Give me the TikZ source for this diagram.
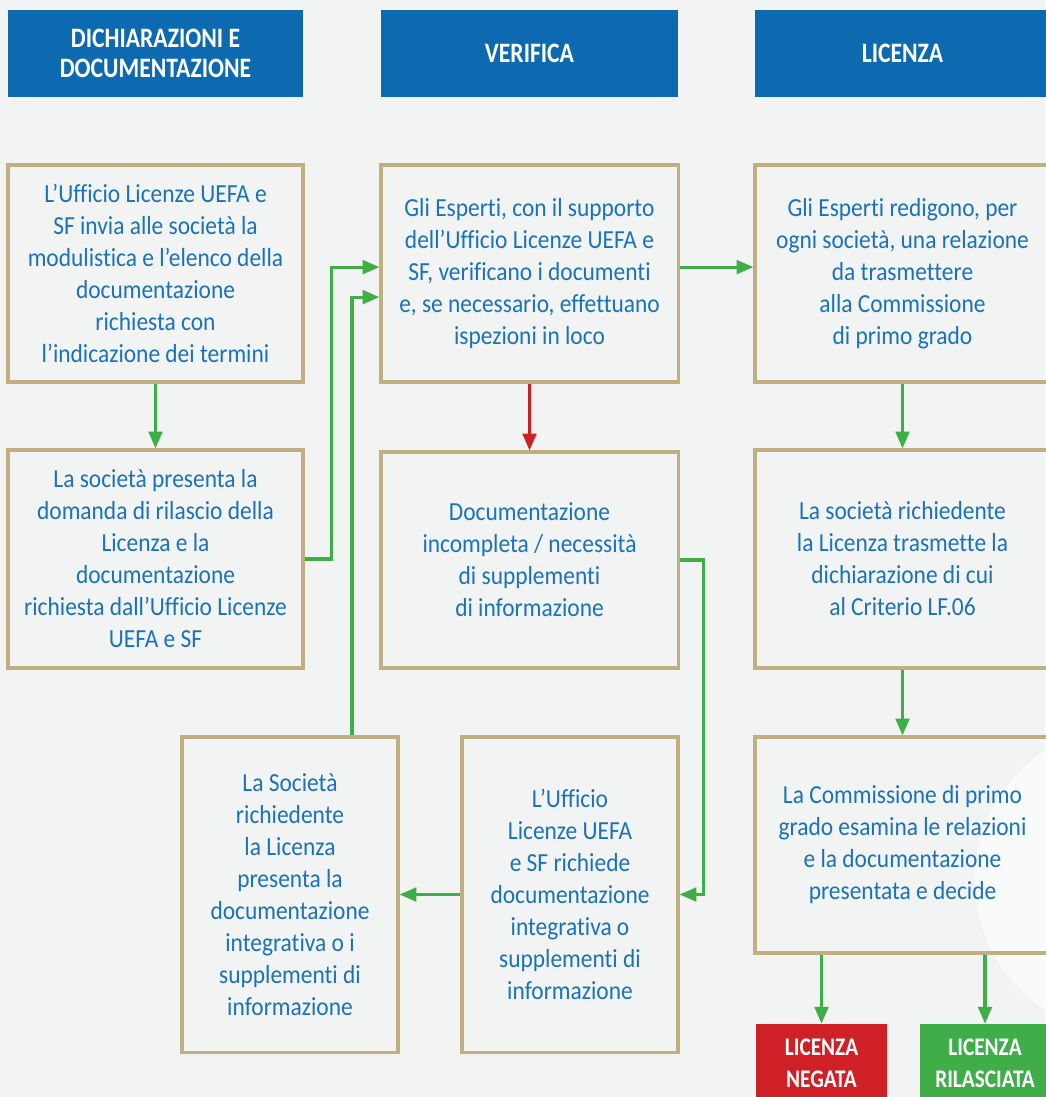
\documentclass[tikz,border=0pt]{standalone}
\usepackage{fontspec}
\setmainfont{Carlito}
\newfontfamily\boxfont[FakeStretch=0.9,Ligatures=NoCommon]{Carlito}
\newfontfamily\headfont[FakeStretch=0.84]{Carlito}
\usetikzlibrary{arrows.meta}
\definecolor{hblue}{HTML}{0E6AB0}
\definecolor{tblue}{HTML}{1B72B8}
\definecolor{boxtan}{HTML}{C0AF80}
\definecolor{okgreen}{HTML}{3FAE49}
\definecolor{nored}{HTML}{D02027}
\definecolor{bgray}{HTML}{F2F3F3}

\begin{document}
\begin{tikzpicture}[x=0.025cm,y=-0.025cm]
        \tikzstyle{every node} = [rectangle, align=center, inner sep=0pt]
        \tikzstyle{head} = [fill=hblue, text=white, font=\headfont\bfseries\fontsize{20}{21.3}\selectfont, minimum height=2.175cm]
        \tikzstyle{box} = [draw=boxtan, line width=2.2pt, text=tblue, font=\boxfont\fontsize{18.5}{22.76}\selectfont]
        \tikzstyle{verdict} = [text=white, font=\headfont\bfseries\fontsize{18}{22.76}\selectfont, minimum height=1.95cm]
        \tikzstyle{link} = [draw=okgreen, line width=2.2pt, -{Triangle[length=0.42cm,width=0.34cm]}]

        \useasboundingbox (0,0) rectangle (1045,1097);
        \fill[bgray] (0,0) rectangle (1045,1097);
        \fill[white, opacity=0.6] (1130,880) circle[radius=3.875cm];

        \node[head, minimum width=7.375cm] (h1) at (155.5,53.5) {DICHIARAZIONI E\\DOCUMENTAZIONE};
        \node[head, minimum width=7.425cm] (h2) at (529.5,53.5) {VERIFICA};
        \node[head, minimum width=7.375cm] (h3) at (902.5,53.5) {LICENZA};

        \node[box, minimum width=7.375cm, minimum height=5.425cm] (a1) at (155.5,273.5) {L’Ufficio Licenze UEFA e\\SF invia alle società la\\modulistica e l’elenco della\\documentazione\\richiesta con\\l’indicazione dei termini};
        \node[box, minimum width=7.425cm, minimum height=5.425cm] (b1) at (529.5,273.5) {Gli Esperti, con il supporto\\dell’Ufficio Licenze UEFA e\\SF, verificano i documenti\\e, se necessario, effettuano\\ispezioni in loco};
        \node[box, minimum width=7.375cm, minimum height=5.425cm] (c1) at (902.5,273.5) {Gli Esperti redigono, per\\ogni società, una relazione\\da trasmettere\\alla Commissione\\di primo grado};

        \node[box, minimum width=7.375cm, minimum height=5.45cm] (a2) at (155.5,559) {La società presenta la\\domanda di rilascio della\\Licenza e la\\documentazione\\richiesta dall’Ufficio Licenze\\UEFA e SF};
        \node[box, minimum width=7.425cm, minimum height=5.4cm] (b2) at (529.5,560) {Documentazione\\incompleta / necessità\\di supplementi\\di informazione};
        \node[box, minimum width=7.375cm, minimum height=5.45cm] (c2) at (902.5,559) {La società richiedente\\la Licenza trasmette la\\dichiarazione di cui\\al Criterio LF.06};

        \node[box, minimum width=5.4cm, minimum height=7.875cm] (a3) at (290,894.5) {La Società\\richiedente\\la Licenza\\presenta la\\documentazione\\integrativa o i\\supplementi di\\informazione};
        \node[box, minimum width=5.4cm, minimum height=7.875cm] (b3) at (570,894.5) {L’Ufficio\\Licenze UEFA\\e SF richiede\\documentazione\\integrativa o\\supplementi di\\informazione};
        \node[box, minimum width=7.375cm, minimum height=5.4cm] (c3) at (902.5,845) {La Commissione di primo\\grado esamina le relazioni\\e la documentazione\\presentata e decide};

        \node[verdict, fill=nored, minimum width=3.275cm] (no) at (821.5,1063) {LICENZA\\NEGATA};
        \node[verdict, fill=okgreen, minimum width=3.25cm] (yes) at (985,1063) {LICENZA\\RILASCIATA};

        \foreach \from/\to in {a1/a2, c1/c2, c2/c3}
            \draw[link] (\from) -- (\to);
        \draw[link, draw=nored] (b1) -- (b2);
        \draw[link] ([yshift=0.16cm]b1.east) -- ([yshift=0.16cm]c1.west);
        \draw[link] (a2.east) -- ++(27,0) |- ([yshift=0.16cm]b1.west);
        \draw[link] ([xshift=1.55cm]a3.north) |- ([yshift=-0.59cm]b1.west);
        \draw[link] (b2.east) -- ++(24,0) |- (b3.east);
        \draw[link] (b3) -- (a3);
        \draw[link] (no.north |- c3.south) -- (no);
        \draw[link] (yes.north |- c3.south) -- (yes);
\end{tikzpicture}
\end{document}
